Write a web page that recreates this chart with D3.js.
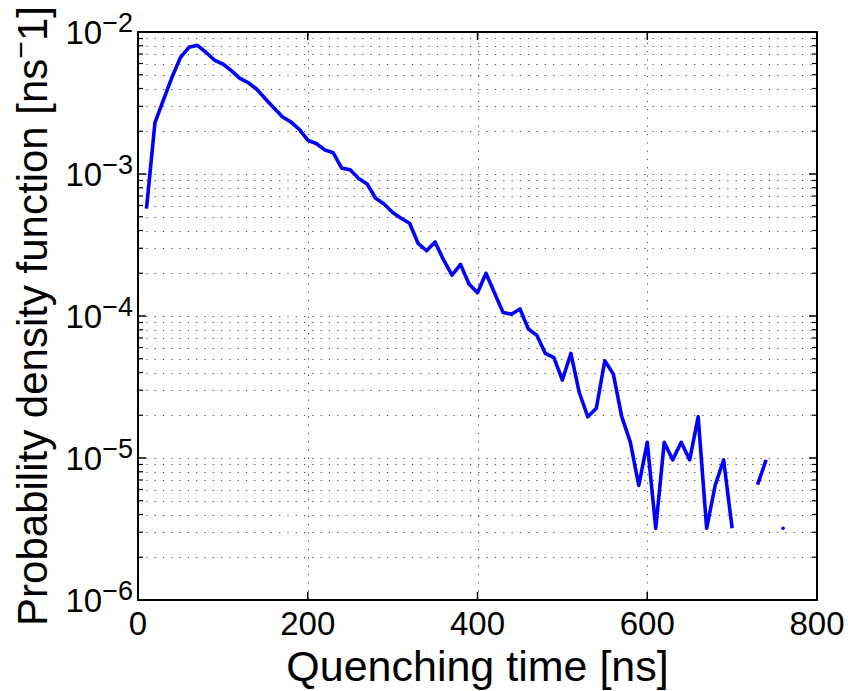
<!DOCTYPE html>
<html>
<head>
<meta charset="utf-8">
<script src="https://cdn.jsdelivr.net/npm/d3@7"></script>
<style>
  html, body { margin: 0; padding: 0; background: #fff; }
  svg { display: block; }
  text { font-family: "Liberation Sans", Arial, Helvetica, sans-serif; fill: #000; }
</style>
</head>
<body>
<svg id="chart" width="848" height="691"></svg>
<script>
// Histogram bin centres (ns) and estimated probability density (ns^-1); null = empty bin
const times = [10, 20, 30, 40, 50, 60, 70, 80, 90, 100,
               110, 120, 130, 140, 150, 160, 170, 180, 190, 200,
               210, 220, 230, 240, 250, 260, 270, 280, 290, 300,
               310, 320, 330, 340, 350, 360, 370, 380, 390, 400,
               410, 420, 430, 440, 450, 460, 470, 480, 490, 500,
               510, 520, 530, 540, 550, 560, 570, 580, 590, 600,
               610, 620, 630, 640, 650, 660, 670, 680, 690, 700,
               710, 720, 730, 740, 750, 760];
const pdf = [5.7e-4, 2.3e-3, 3.33e-3, 4.8e-3, 6.6e-3, 7.8e-3, 8.05e-3, 7.2e-3, 6.35e-3, 5.95e-3,
             5.35e-3, 4.72e-3, 4.39e-3, 3.95e-3, 3.39e-3, 2.93e-3, 2.53e-3, 2.33e-3, 2.06e-3, 1.73e-3,
             1.64e-3, 1.48e-3, 1.41e-3, 1.10e-3, 1.07e-3, 9.3e-4, 8.5e-4, 6.75e-4, 6.15e-4, 5.35e-4,
             4.88e-4, 4.5e-4, 3.25e-4, 2.88e-4, 3.32e-4, 2.48e-4, 1.94e-4, 2.31e-4, 1.68e-4, 1.46e-4,
             2.0e-4, 1.46e-4, 1.06e-4, 1.03e-4, 1.12e-4, 8.1e-5, 7.3e-5, 5.45e-5, 5.1e-5, 3.54e-5,
             5.45e-5, 2.88e-5, 1.95e-5, 2.24e-5, 4.84e-5, 3.91e-5, 1.95e-5, 1.30e-5, 6.4e-6, 1.29e-5,
             3.2e-6, 1.29e-5, 9.7e-6, 1.29e-5, 9.7e-6, 1.95e-5, 3.2e-6, 6.4e-6, 9.7e-6, 3.2e-6,
             null, null, 6.5e-6, 9.7e-6, null, 3.2e-6];

const xTicks = [0, 200, 400, 600, 800];
const yExponents = [-2, -3, -4, -5, -6];
const xTitle = "Quenching time [ns]";
const yTitle = ["Probability density function [ns", "\u2212", "1]"];

const margin = { left: 138, top: 32, right: 31, bottom: 91 };
const W = 848, H = 691;
const svg = d3.select("#chart");

const x = d3.scaleLinear().domain([0, 800]).range([margin.left, W - margin.right]);
const y = d3.scaleLog().domain([1e-6, 1e-2]).range([H - margin.bottom, margin.top]);

const x0 = x.range()[0], x1 = x.range()[1];
const y0 = y.range()[0], y1 = y.range()[1];

// minor and major log values
const yMinor = [];
for (let e = -6; e < -2; e++) {
  for (let m = 2; m <= 9; m++) yMinor.push(m * Math.pow(10, e));
}
const yMajor = yExponents.map(e => Math.pow(10, e));

// dotted grid
const grid = svg.append("g").attr("stroke", "#000").attr("stroke-width", 1)
  .attr("stroke-dasharray", "1.2,7.1").attr("fill", "none").attr("opacity", 0.7);
grid.selectAll("line.h").data(yMinor.concat(yMajor.slice(1, -1))).join("line")
  .attr("class", "h")
  .attr("x1", x0).attr("x2", x1)
  .attr("y1", d => Math.round(y(d)) + 0.5).attr("y2", d => Math.round(y(d)) + 0.5);
grid.selectAll("line.v").data(xTicks.slice(1, -1)).join("line")
  .attr("class", "v")
  .attr("y1", y0).attr("y2", y1)
  .attr("x1", d => Math.round(x(d)) + 0.5).attr("x2", d => Math.round(x(d)) + 0.5);

// data line (gaps at empty bins)
const pts = times.map((t, i) => ({ t, v: pdf[i] }));
const line = d3.line()
  .defined(d => d.v != null)
  .x(d => x(d.t)).y(d => y(d.v));
svg.append("path").datum(pts)
  .attr("d", line)
  .attr("fill", "none").attr("stroke", "#0000ff")
  .attr("stroke-width", 3.6).attr("stroke-linejoin", "round").attr("stroke-linecap", "butt");

// isolated non-empty bins appear as a dot
const isolated = pts.filter((d, i) => d.v != null &&
  (i === 0 || pts[i - 1].v == null) && (i === pts.length - 1 || pts[i + 1].v == null));
svg.selectAll("circle.iso").data(isolated).join("circle")
  .attr("class", "iso")
  .attr("cx", d => x(d.t)).attr("cy", d => y(d.v)).attr("r", 1.8)
  .attr("fill", "#0000ff");

// axes box with inward ticks on all four sides
const axes = svg.append("g").attr("stroke", "#000").attr("fill", "none");
axes.append("rect").attr("x", x0).attr("y", y1).attr("width", x1 - x0).attr("height", y0 - y1)
  .attr("stroke-width", 2);

const majLen = 8, minLen = 5;
xTicks.forEach(d => {
  axes.append("line").attr("x1", x(d)).attr("x2", x(d)).attr("y1", y0).attr("y2", y0 - majLen).attr("stroke-width", 1.5);
  axes.append("line").attr("x1", x(d)).attr("x2", x(d)).attr("y1", y1).attr("y2", y1 + majLen).attr("stroke-width", 1.5);
});
yMajor.forEach(d => {
  axes.append("line").attr("x1", x0).attr("x2", x0 + majLen).attr("y1", y(d)).attr("y2", y(d)).attr("stroke-width", 1.5);
  axes.append("line").attr("x1", x1).attr("x2", x1 - majLen).attr("y1", y(d)).attr("y2", y(d)).attr("stroke-width", 1.5);
});
yMinor.forEach(d => {
  axes.append("line").attr("x1", x0).attr("x2", x0 + minLen).attr("y1", y(d)).attr("y2", y(d)).attr("stroke-width", 1.2);
  axes.append("line").attr("x1", x1).attr("x2", x1 - minLen).attr("y1", y(d)).attr("y2", y(d)).attr("stroke-width", 1.2);
});

// x tick labels
svg.append("g").selectAll("text").data(xTicks).join("text")
  .attr("x", d => x(d)).attr("y", 635)
  .attr("text-anchor", "middle").attr("font-size", 33)
  .text(d => d);

// y tick labels: 10 with superscript exponent
yExponents.forEach(e => {
  const t = svg.append("text")
    .attr("x", 133).attr("y", y(Math.pow(10, e)) + 12)
    .attr("text-anchor", "end");
  t.append("tspan").attr("font-size", 33).text("10");
  t.append("tspan").attr("font-size", 27).attr("dy", -12).text("\u2212" + Math.abs(e));
});

// axis titles
svg.append("text")
  .attr("x", (x0 + x1) / 2).attr("y", 681)
  .attr("text-anchor", "middle").attr("font-size", 43)
  .text(xTitle);

const yt = svg.append("text")
  .attr("transform", `translate(47,${(y0 + y1) / 2}) rotate(-90)`)
  .attr("text-anchor", "middle").attr("font-size", 42);
yt.append("tspan").text(yTitle[0]);
yt.append("tspan").attr("font-size", 30).attr("dy", -16).text(yTitle[1]);
yt.append("tspan").attr("dy", 16).text(yTitle[2]);
</script>
</body>
</html>
